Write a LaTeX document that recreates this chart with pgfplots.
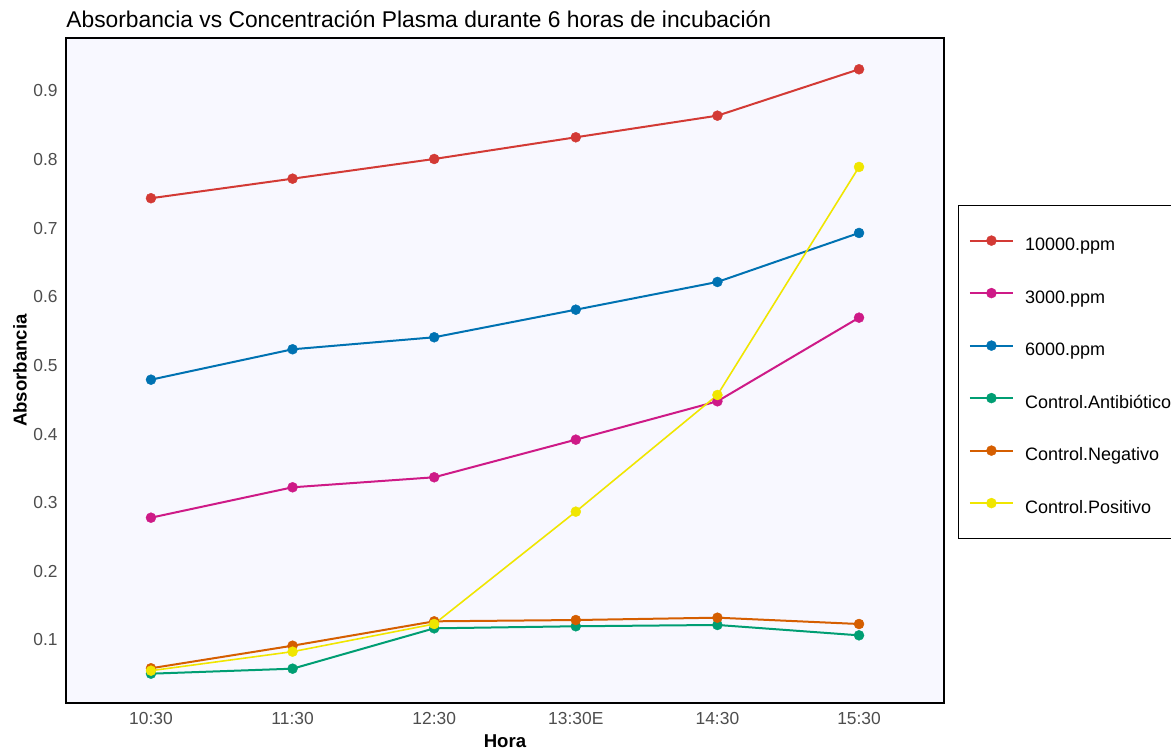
\documentclass[border=0pt]{standalone}
\usepackage{pgfplots}
\pgfplotsset{compat=1.18}
\usepackage{fontspec}
\setmainfont{Liberation Sans}
\definecolor{cRed}{HTML}{D33A35}
\definecolor{cMag}{HTML}{CE1A87}
\definecolor{cBlue}{HTML}{0072B2}
\definecolor{cGreen}{HTML}{009E73}
\definecolor{cOrange}{HTML}{D55E00}
\definecolor{cYellow}{HTML}{F0E600}
\definecolor{panelbg}{HTML}{F8F8FF}
\definecolor{tickgrey}{HTML}{4D4D4D}
\begin{document}
\begin{tikzpicture}
\useasboundingbox (-33pt,-25pt) rectangle (552.5pt,351.5pt);
\begin{axis}[
  scale only axis,
  width=439pt, height=332.5pt,
  xmin=-0.6, xmax=5.6,
  ymin=0.0082, ymax=0.9772,
  xtick={0,1,2,3,4,5},
  xticklabels={10:30,11:30,12:30,13:30E,14:30,15:30},
  ytick={0.1,0.2,0.3,0.4,0.5,0.6,0.7,0.8,0.9},
  yticklabels={0.1,0.2,0.3,0.4,0.5,0.6,0.7,0.8,0.9},
  major tick length=0pt,
  axis line style={black, line width=0.7pt},
  axis background/.style={fill=panelbg},
  tick label style={font=\fontsize{8.7}{10}\selectfont, text=tickgrey},
  xticklabel style={anchor=base, inner sep=0pt, yshift=-11pt},
  yticklabel style={anchor=east, inner sep=0pt, xshift=-4pt},
  title={Absorbancia vs Concentración Plasma durante 6 horas de incubación},
  title style={at={(axis description cs:0,1)}, anchor=base west, yshift=-0.6pt, inner sep=0pt, font=\fontsize{11.4}{13}\selectfont},
  xlabel={Hora},
  ylabel={Absorbancia},
  xlabel style={at={(axis description cs:0.5,-0.0571)}, anchor=center, inner sep=0pt, font=\fontsize{9.3}{11}\selectfont\bfseries},
  ylabel style={at={(axis description cs:-0.0524,0.5)}, anchor=center, rotate=0, inner sep=0pt, font=\fontsize{9.3}{11}\selectfont\bfseries},
  legend style={at={(axis description cs:1.016,0.749)}, anchor=north west,
    draw=black, line width=0.5pt, fill=white,
    font=\fontsize{9}{10}\selectfont,
    inner xsep=5.2pt, inner ysep=12.5pt, row sep=16.05pt, column sep=5.6pt,
    nodes={inner sep=0pt, text height=10.2pt, text depth=0pt}},
  legend cell align=left,
  legend image code/.code={
    \draw[solid] (0pt,0pt) -- (21.5pt,0pt);
    \draw plot[only marks] coordinates {(10.75pt,0pt)};
  },
]
% lines
\addplot[cRed, line width=1pt, forget plot] coordinates {(0,0.7437)(1,0.7722)(2,0.8009)(3,0.8325)(4,0.8640)(5,0.9316)};
\addplot[cMag, line width=1pt, forget plot] coordinates {(0,0.2782)(1,0.3225)(2,0.3371)(3,0.3919)(4,0.4478)(5,0.5697)};
\addplot[cBlue, line width=1pt, forget plot] coordinates {(0,0.4793)(1,0.5236)(2,0.5411)(3,0.5813)(4,0.6217)(5,0.6931)};
\addplot[cGreen, line width=1pt, forget plot] coordinates {(0,0.0509)(1,0.0582)(2,0.1170)(3,0.1200)(4,0.1219)(5,0.1068)};
\addplot[cOrange, line width=1pt, forget plot] coordinates {(0,0.0588)(1,0.0917)(2,0.1272)(3,0.1291)(4,0.1325)(5,0.1233)};
\addplot[cYellow, line width=0.8pt, forget plot] coordinates {(0,0.0553)(1,0.0830)(2,0.1233)(3,0.2870)(4,0.4570)(5,0.7893)};
% points
\addplot[cRed, line width=1pt, only marks, mark=*, mark size=2.5pt, mark options={line width=0.2pt}] coordinates {(0,0.7437)(1,0.7722)(2,0.8009)(3,0.8325)(4,0.8640)(5,0.9316)};
\addlegendentry{10000.ppm}
\addplot[cMag, line width=1pt, only marks, mark=*, mark size=2.5pt, mark options={line width=0.2pt}] coordinates {(0,0.2782)(1,0.3225)(2,0.3371)(3,0.3919)(4,0.4478)(5,0.5697)};
\addlegendentry{3000.ppm}
\addplot[cBlue, line width=1pt, only marks, mark=*, mark size=2.5pt, mark options={line width=0.2pt}] coordinates {(0,0.4793)(1,0.5236)(2,0.5411)(3,0.5813)(4,0.6217)(5,0.6931)};
\addlegendentry{6000.ppm}
\addplot[cGreen, line width=1pt, only marks, mark=*, mark size=2.5pt, mark options={line width=0.2pt}] coordinates {(0,0.0509)(1,0.0582)(2,0.1170)(3,0.1200)(4,0.1219)(5,0.1068)};
\addlegendentry{Control.Antibiótico}
\addplot[cOrange, line width=1pt, only marks, mark=*, mark size=2.5pt, mark options={line width=0.2pt}] coordinates {(0,0.0588)(1,0.0917)(2,0.1272)(3,0.1291)(4,0.1325)(5,0.1233)};
\addlegendentry{Control.Negativo}
\addplot[cYellow, line width=1pt, only marks, mark=*, mark size=2.5pt, mark options={line width=0.2pt}] coordinates {(0,0.0553)(1,0.0830)(2,0.1233)(3,0.2870)(4,0.4570)(5,0.7893)};
\addlegendentry{Control.Positivo}
\end{axis}
\end{tikzpicture}
\end{document}
